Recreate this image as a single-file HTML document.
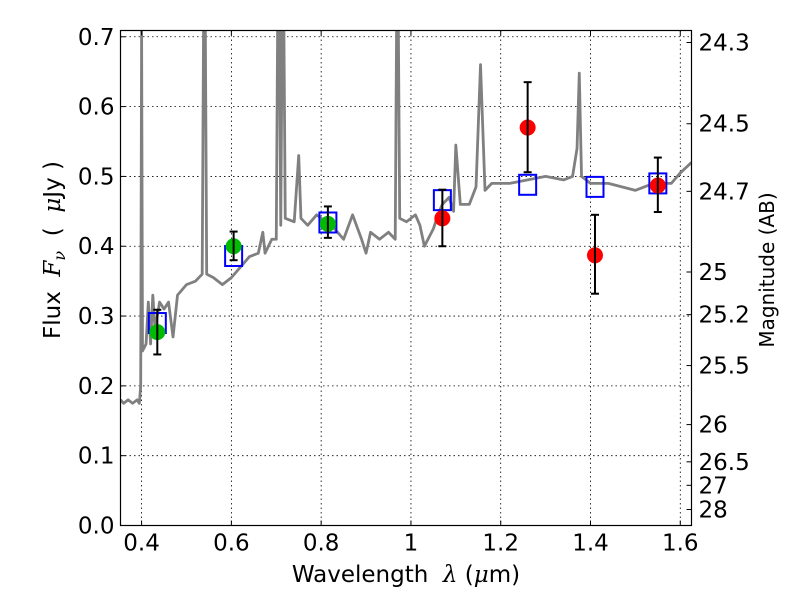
<!DOCTYPE html>
<html><head><meta charset="utf-8"><style>
body{margin:0;background:#fff;}
svg text{font-family:"DejaVu Sans","Liberation Sans",sans-serif;font-size:23px;fill:#000;}
</style></head><body>
<svg id="c" width="800" height="600" xmlns="http://www.w3.org/2000/svg">
<g id="grid"></g>
<g id="plot"></g>
<rect x="120.5" y="30.5" width="571" height="495" fill="none" stroke="#000" stroke-width="1.2"/>
<g id="axes"></g>
<text x="406" y="582" text-anchor="middle" xml:space="preserve">Wavelength  <tspan font-family="DejaVu Serif" font-style="italic">λ</tspan> (<tspan font-family="DejaVu Serif" font-style="italic">μ</tspan>m)</text>
<text transform="translate(60,250) rotate(-90)" text-anchor="middle" xml:space="preserve">Flux  <tspan font-family="DejaVu Serif" font-style="italic">F</tspan><tspan font-family="DejaVu Serif" font-style="italic" font-size="16" dy="5">ν</tspan><tspan dy="-5">  (  </tspan><tspan font-family="DejaVu Serif" font-style="italic">μ</tspan>Jy )</text>
<text transform="translate(774,270) rotate(-90)" text-anchor="middle" style="font-size:20px">Magnitude (AB)</text>
</svg>
<script>
const xTicks=[0.4,0.6,0.8,1.0,1.2,1.4,1.6];
const xTickLabels=["0.4","0.6","0.8","1","1.2","1.4","1.6"];
const yTicks=[0,0.1,0.2,0.3,0.4,0.5,0.6,0.7];
const yTickLabels=["0.0","0.1","0.2","0.3","0.4","0.5","0.6","0.7"];
const magTicks=[24.3,24.5,24.7,25,25.2,25.5,26,26.5,27,28];
const specWave=[0.353,0.36,0.37,0.38,0.39,0.395,0.398,0.40,0.402,0.41,0.415,0.42,0.425,0.43,0.44,0.45,0.46,0.47,0.48,0.50,0.52,0.535,0.538,0.542,0.545,0.56,0.58,0.60,0.62,0.64,0.66,0.67,0.675,0.69,0.70,0.703,0.707,0.71,0.713,0.717,0.72,0.74,0.75,0.755,0.77,0.79,0.81,0.83,0.85,0.87,0.89,0.90,0.91,0.93,0.95,0.965,0.968,0.972,0.975,0.99,1.01,1.02,1.03,1.05,1.06,1.07,1.085,1.095,1.10,1.11,1.13,1.145,1.155,1.165,1.18,1.22,1.26,1.30,1.34,1.36,1.37,1.375,1.38,1.40,1.44,1.47,1.50,1.54,1.58,1.60,1.625];
const specFlux=[0.18,0.175,0.18,0.175,0.18,0.175,0.2,0.71,0.25,0.26,0.32,0.26,0.33,0.28,0.32,0.31,0.32,0.27,0.33,0.345,0.35,0.36,0.71,0.71,0.36,0.355,0.345,0.355,0.37,0.385,0.39,0.42,0.39,0.41,0.41,0.71,0.71,0.43,0.71,0.71,0.44,0.435,0.53,0.44,0.43,0.445,0.435,0.425,0.41,0.445,0.41,0.39,0.42,0.41,0.42,0.41,0.71,0.71,0.44,0.435,0.445,0.43,0.40,0.425,0.445,0.46,0.47,0.45,0.545,0.46,0.46,0.485,0.66,0.48,0.49,0.49,0.495,0.5,0.495,0.5,0.54,0.648,0.5,0.49,0.49,0.485,0.48,0.49,0.49,0.505,0.52];
const modelWave=[0.435,0.605,0.815,1.07,1.26,1.41,1.55];
const modelFlux=[0.29,0.386,0.434,0.466,0.488,0.485,0.49];
const greenWave=[0.435,0.605,0.815];
const greenFlux=[0.277,0.40,0.432];
const greenLo=[0.245,0.38,0.412];
const greenHi=[0.309,0.421,0.457];
const redWave=[1.07,1.26,1.41,1.55];
const redFlux=[0.44,0.57,0.387,0.487];
const redLo=[0.40,0.506,0.332,0.449];
const redHi=[0.481,0.635,0.445,0.527];

const NS="http://www.w3.org/2000/svg";
const X0=120.5,X1=691.5,Y0=525.5,Y1=30.5,xmin=0.353,xmax=1.625,ymin=0,ymax=0.709;
const sx=v=>X0+(v-xmin)/(xmax-xmin)*(X1-X0);
const sy=v=>Y0-(v-ymin)/(ymax-ymin)*(Y0-Y1);
function mk(t,a,p){const e=document.createElementNS(NS,t);for(const k in a)e.setAttribute(k,a[k]);p.appendChild(e);return e;}
const grid=document.getElementById('grid'),plot=document.getElementById('plot'),axes=document.getElementById('axes');
xTicks.forEach((v,i)=>{
 const g=mk('line',{x1:sx(v),x2:sx(v),y1:Y1,y2:Y0,stroke:'#000','stroke-width':0.8,'stroke-dasharray':'1.5,3'},grid);
 
 
 mk('line',{x1:sx(v),x2:sx(v),y1:Y0,y2:Y0-5,stroke:'#000'},axes);
 mk('line',{x1:sx(v),x2:sx(v),y1:Y1,y2:Y1+5,stroke:'#000'},axes);
 const t=mk('text',{x:sx(v),y:Y0+25,'text-anchor':'middle'},axes);t.textContent=xTickLabels[i];
 
 
});
yTicks.forEach((v,i)=>{
 const g=mk('line',{x1:X0,x2:X1,y1:sy(v),y2:sy(v),stroke:'#000','stroke-width':0.8,'stroke-dasharray':'1.5,3'},grid);
 
 
 mk('line',{x1:X0,x2:X0+5,y1:sy(v),y2:sy(v),stroke:'#000'},axes);
 const t=mk('text',{x:X0-6,y:sy(v)+8,'text-anchor':'end'},axes);t.textContent=yTickLabels[i];
 
 
});
magTicks.forEach(m=>{
 const f=Math.pow(10,(23.9-m)/2.5);const y=sy(f);
 mk('line',{x1:X1,x2:X1-5,y1:y,y2:y,stroke:'#000'},axes);
 const t=mk('text',{x:X1+7,y:y+8},axes);t.textContent=String(m);
 
 
});
const cp=mk('clipPath',{id:'cl'},plot);mk('rect',{x:X0,y:Y1,width:X1-X0,height:Y0-Y1},cp);
const sp=mk('polyline',{points:specWave.map((w,i)=>sx(w)+','+sy(specFlux[i])).join(' '),fill:'none',stroke:'#808080','stroke-width':2.8,'stroke-linejoin':'round','clip-path':'url(#cl)'},plot);


modelWave.forEach((w,i)=>{
 const r=mk('rect',{x:sx(w)-8.5,y:sy(modelFlux[i])-10,width:17,height:20,fill:'none',stroke:'#0000ff','stroke-width':2},plot);
 
 
});
function pts(W,F,L,H,col,name){W.forEach((w,i)=>{
 const x=sx(w);
 const c=mk('circle',{cx:x,cy:sy(F[i]),r:8,fill:col},plot);
 
 
 const e=mk('g',{stroke:'#000','stroke-width':2},plot);
 
 
 mk('line',{x1:x,x2:x,y1:sy(L[i]),y2:sy(H[i])},e);
 mk('line',{x1:x-4,x2:x+4,y1:sy(L[i]),y2:sy(L[i])},e);
 mk('line',{x1:x-4,x2:x+4,y1:sy(H[i]),y2:sy(H[i])},e);
});}
pts(greenWave,greenFlux,greenLo,greenHi,'#00bb00','green-data-point');
pts(redWave,redFlux,redLo,redHi,'#ff0000','red-data-point');
</script>
</body></html>
